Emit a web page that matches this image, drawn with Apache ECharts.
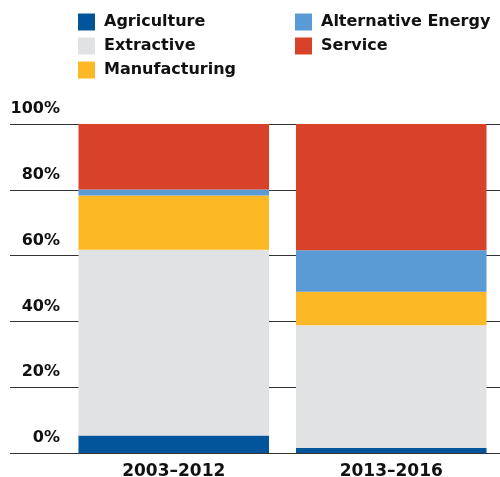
<!DOCTYPE html>
<html>
<head>
<meta charset="utf-8">
<script src="https://cdn.jsdelivr.net/npm/echarts@6/dist/echarts.min.js"></script>
<style>html,body{margin:0;padding:0;background:#fff;}#c{width:500px;height:477px;}</style>
</head>
<body>
<div id="c"></div>
<script>
const categories = ['2003–2012', '2013–2016'];
const agriculture = [5.3, 1.5];
const extractive = [56.5, 37.3];
const manufacturing = [16.5, 10.2];
const altEnergy = [1.8, 12.6];
const service = [19.9, 38.4];
const yTicks = [0, 20, 40, 60, 80, 100];

const colors = {
  'Agriculture': '#02559A',
  'Extractive': '#E1E2E4',
  'Manufacturing': '#FDB825',
  'Alternative Energy': '#5A9BD6',
  'Service': '#D84229'
};
const font = 'DejaVu Sans';
const chart = echarts.init(document.getElementById('c'));
function bar(name, data) {
  return {
    name, type: 'bar', stack: 'total', data, xAxisIndex: 1, yAxisIndex: 1,
    barWidth: '87.6%', itemStyle: { color: colors[name] }, emphasis: { disabled: true }
  };
}
const legendText = { fontFamily: font, fontSize: 16, fontWeight: 'bold', color: '#111', padding: [0, 0, 0, 4] };
chart.setOption({
  animation: false,
  legend: [
    { left: 78, top: 13.5, orient: 'vertical', itemWidth: 17, itemHeight: 17, itemGap: 7, padding: 0,
      icon: 'rect', textStyle: legendText, data: ['Agriculture', 'Extractive', 'Manufacturing'], selectedMode: false },
    { left: 295, top: 13.5, orient: 'vertical', itemWidth: 17, itemHeight: 17, itemGap: 7, padding: 0,
      icon: 'rect', textStyle: legendText, data: ['Alternative Energy', 'Service'], selectedMode: false }
  ],
  grid: [
    { left: 10, right: 0, top: 124, bottom: 24, outerBoundsMode: 'none', containLabel: false },
    { left: 65, right: 0, top: 124, bottom: 24, outerBoundsMode: 'none', containLabel: false }
  ],
  xAxis: [
    { gridIndex: 0, type: 'value', min: 0, max: 1, show: false },
    { gridIndex: 1, type: 'category', data: categories,
      axisLine: { show: false }, axisTick: { show: false },
      axisLabel: { fontFamily: font, fontSize: 17, fontWeight: 'bold', color: '#111', margin: 10 } }
  ],
  yAxis: [
    { gridIndex: 0, type: 'value', min: yTicks[0], max: yTicks[yTicks.length - 1], interval: 20,
      axisLine: { show: false }, axisTick: { show: false },
      splitLine: { lineStyle: { color: '#333', width: 1 } },
      axisLabel: { inside: true, margin: 50, align: 'right', verticalAlign: 'bottom', padding: [0, 0, 7, 0],
        fontFamily: font, fontSize: 16, fontWeight: 'bold', color: '#111', formatter: '{value}%' } },
    { gridIndex: 1, type: 'value', min: 0, max: 100, interval: 20,
      axisLine: { show: false }, axisTick: { show: false }, axisLabel: { show: false },
      splitLine: { show: false } }
  ],
  series: [
    bar('Agriculture', agriculture),
    bar('Extractive', extractive),
    bar('Manufacturing', manufacturing),
    bar('Alternative Energy', altEnergy),
    bar('Service', service)
  ]
});
</script>
</body>
</html>
